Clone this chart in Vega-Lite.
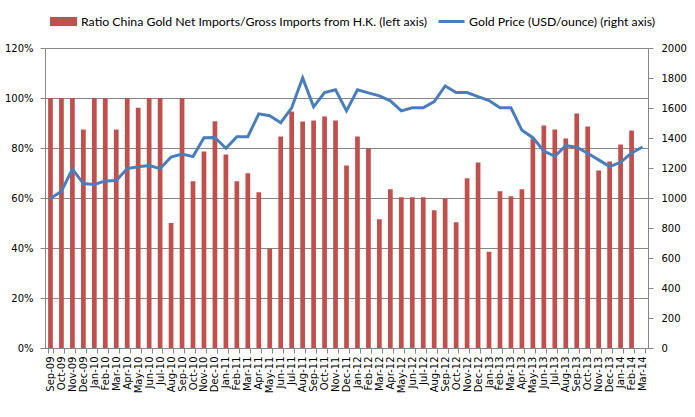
{
  "$schema": "https://vega.github.io/schema/vega-lite/v6.json",
  "width": 603,
  "height": 300,
  "autosize": {"type": "none"},
  "padding": {"left": 45, "top": 48, "right": 47, "bottom": 69},
  "background": "white",
  "data": {
    "values": [
      {"month": "Sep-09", "ratio": 1.0, "price": 997},
      {"month": "Oct-09", "ratio": 1.0, "price": 1045},
      {"month": "Nov-09", "ratio": 1.0, "price": 1192},
      {"month": "Dec-09", "ratio": 0.874, "price": 1096},
      {"month": "Jan-10", "ratio": 1.0, "price": 1090},
      {"month": "Feb-10", "ratio": 1.0, "price": 1114},
      {"month": "Mar-10", "ratio": 0.874, "price": 1116},
      {"month": "Apr-10", "ratio": 1.0, "price": 1196},
      {"month": "May-10", "ratio": 0.961, "price": 1209},
      {"month": "Jun-10", "ratio": 1.0, "price": 1216},
      {"month": "Jul-10", "ratio": 1.0, "price": 1196},
      {"month": "Aug-10", "ratio": 0.5, "price": 1273},
      {"month": "Sep-10", "ratio": 1.0, "price": 1293},
      {"month": "Oct-10", "ratio": 0.667, "price": 1276},
      {"month": "Nov-10", "ratio": 0.786, "price": 1402},
      {"month": "Dec-10", "ratio": 0.907, "price": 1404},
      {"month": "Jan-11", "ratio": 0.774, "price": 1331},
      {"month": "Feb-11", "ratio": 0.667, "price": 1409},
      {"month": "Mar-11", "ratio": 0.699, "price": 1409},
      {"month": "Apr-11", "ratio": 0.623, "price": 1561},
      {"month": "May-11", "ratio": 0.398, "price": 1548},
      {"month": "Jun-11", "ratio": 0.846, "price": 1502},
      {"month": "Jul-11", "ratio": 0.946, "price": 1601},
      {"month": "Aug-11", "ratio": 0.906, "price": 1801},
      {"month": "Sep-11", "ratio": 0.91, "price": 1608},
      {"month": "Oct-11", "ratio": 0.926, "price": 1703},
      {"month": "Nov-11", "ratio": 0.91, "price": 1721},
      {"month": "Dec-11", "ratio": 0.73, "price": 1581},
      {"month": "Jan-12", "ratio": 0.846, "price": 1721},
      {"month": "Feb-12", "ratio": 0.798, "price": 1701},
      {"month": "Mar-12", "ratio": 0.515, "price": 1681},
      {"month": "Apr-12", "ratio": 0.635, "price": 1648},
      {"month": "May-12", "ratio": 0.603, "price": 1581},
      {"month": "Jun-12", "ratio": 0.603, "price": 1601},
      {"month": "Jul-12", "ratio": 0.603, "price": 1601},
      {"month": "Aug-12", "ratio": 0.551, "price": 1643},
      {"month": "Sep-12", "ratio": 0.599, "price": 1747},
      {"month": "Oct-12", "ratio": 0.503, "price": 1703},
      {"month": "Nov-12", "ratio": 0.679, "price": 1703},
      {"month": "Dec-12", "ratio": 0.742, "price": 1676},
      {"month": "Jan-13", "ratio": 0.385, "price": 1650},
      {"month": "Feb-13", "ratio": 0.627, "price": 1601},
      {"month": "Mar-13", "ratio": 0.607, "price": 1601},
      {"month": "Apr-13", "ratio": 0.635, "price": 1451},
      {"month": "May-13", "ratio": 0.838, "price": 1402},
      {"month": "Jun-13", "ratio": 0.89, "price": 1313},
      {"month": "Jul-13", "ratio": 0.874, "price": 1278},
      {"month": "Aug-13", "ratio": 0.838, "price": 1349},
      {"month": "Sep-13", "ratio": 0.938, "price": 1338},
      {"month": "Oct-13", "ratio": 0.886, "price": 1298},
      {"month": "Nov-13", "ratio": 0.71, "price": 1254},
      {"month": "Dec-13", "ratio": 0.746, "price": 1209},
      {"month": "Jan-14", "ratio": 0.814, "price": 1238},
      {"month": "Feb-14", "ratio": 0.87, "price": 1300},
      {"month": "Mar-14", "ratio": null, "price": 1340}
    ]
  },
  "encoding": {
    "x": {
      "field": "month",
      "type": "ordinal",
      "sort": null,
      "title": null,
      "scale": {"paddingInner": 0.57, "paddingOuter": 0.285},
      "axis": {
        "labelAngle": -90,
        "labelFont": "DejaVu Sans",
        "labelFontSize": 10,
        "labelColor": "#000000",
        "labelPadding": 3,
        "tickBand": "extent",
        "tickSize": 5,
        "tickColor": "#868686",
        "domainColor": "#868686"
      }
    }
  },
  "layer": [
    {
      "mark": {"type": "bar"},
      "encoding": {
        "y": {
          "field": "ratio",
          "type": "quantitative",
          "title": null,
          "scale": {"domain": [0, 1.2], "nice": false},
          "axis": {
            "values": [0, 0.2, 0.4, 0.6, 0.8, 1.0, 1.2],
            "format": ".0%",
            "labelFont": "DejaVu Sans",
            "labelFontSize": 10,
            "labelColor": "#000000",
            "labelPadding": 7,
            "tickSize": 5,
            "tickColor": "#868686",
            "domainColor": "#868686",
            "grid": true,
            "gridColor": "#868686",
            "gridOpacity": 1
          }
        },
        "fill": {
          "datum": "Ratio China Gold Net Imports/Gross Imports from H.K. (left axis)",
          "scale": {"range": ["#C0504D"]},
          "legend": {
            "title": null,
            "orient": "none",
            "legendX": 4,
            "legendY": -41,
            "symbolType": "M-1,-0.34L1,-0.34L1,0.34L-1,0.34Z",
            "symbolSize": 729,
            "symbolOpacity": 1,
            "labelFont": "Lato",
            "labelFontSize": 12.3,
            "labelColor": "#000000",
            "labelOffset": 3,
            "labelLimit": 0
          }
        }
      }
    },
    {
      "mark": {"type": "line", "strokeWidth": 3, "color": "#4A7EBB"},
      "encoding": {
        "y": {
          "field": "price",
          "type": "quantitative",
          "title": null,
          "scale": {"domain": [0, 2000], "nice": false},
          "axis": {
            "orient": "right",
            "values": [0, 200, 400, 600, 800, 1000, 1200, 1400, 1600, 1800, 2000],
            "format": "d",
            "labelFont": "DejaVu Sans",
            "labelFontSize": 10,
            "labelColor": "#000000",
            "labelPadding": 8,
            "tickSize": 5,
            "tickColor": "#868686",
            "domainColor": "#868686",
            "grid": false
          }
        },
        "stroke": {
          "datum": "Gold Price (USD/ounce) (right axis)",
          "scale": {"range": ["#4A7EBB"]},
          "legend": {
            "title": null,
            "orient": "none",
            "legendX": 392,
            "legendY": -41,
            "symbolType": "stroke",
            "symbolSize": 676,
            "symbolStrokeWidth": 3,
            "labelFont": "Lato",
            "labelFontSize": 12.3,
            "labelColor": "#000000",
            "labelOffset": 3,
            "labelLimit": 0
          }
        }
      }
    }
  ],
  "resolve": {"scale": {"y": "independent"}},
  "config": {
    "view": {"stroke": null}
  }
}
